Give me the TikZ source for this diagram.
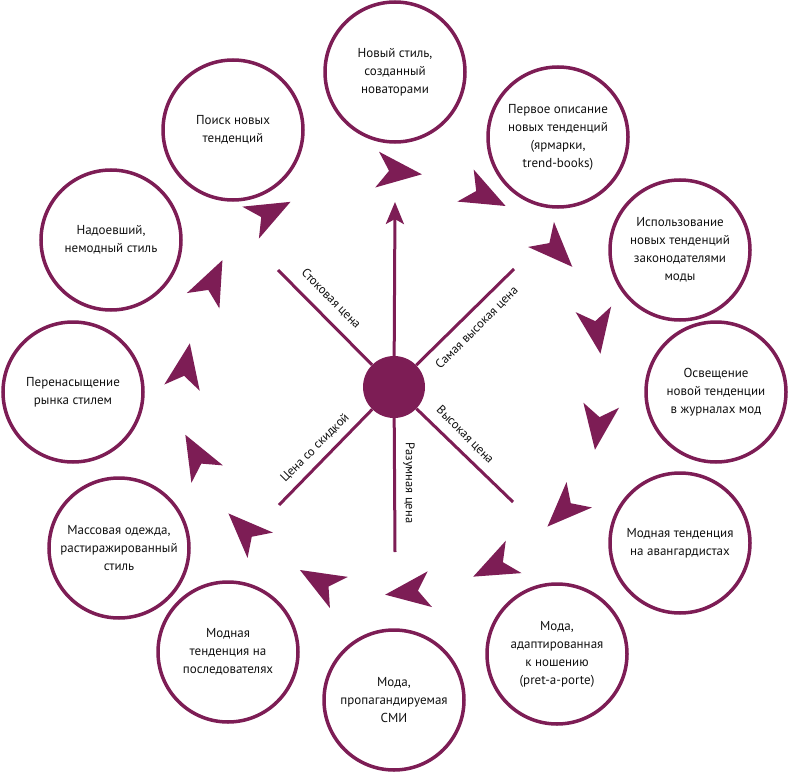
\documentclass[tikz,border=0pt]{standalone}
\usepackage{fontspec}
\setmainfont{PT Sans}
\usetikzlibrary{arrows.meta}
\definecolor{plum}{HTML}{7D1D55}
\definecolor{ink}{HTML}{111111}
\begin{document}
\begin{tikzpicture}[x=1pt,y=-1pt,
  bub/.style={circle,draw=plum,line width=3.5pt,minimum size=140pt,inner sep=0pt,align=center,text=ink,font=\fontsize{13}{18}\selectfont},
  lab/.style={text=ink,font=\fontsize{12.5}{15}\selectfont,inner sep=1pt},
  spoke/.style={draw=plum,line width=3pt},
  arr/.pic={\fill[plum] (22,0) -- (-23,-18) -- (-11,0) -- (-23,18) -- cycle;}]
\useasboundingbox (0,0) rectangle (790,773);
\node[bub] (c1) at (395,72) {Новый стиль,\\созданный\\новаторами};
\node[bub] (c2) at (558,137) {Первое описание\\новых тенденций\\(ярмарки,\\trend-books)};
\node[bub] (c3) at (680,250) {Использование\\новых тенденций\\законодателями\\моды};
\node[bub] (c4) at (716,392) {Освещение\\новой тенденции\\в журналах мод};
\node[bub] (c5) at (680,543) {Модная тенденция\\на авангардистах};
\node[bub] (c6) at (557,654) {Мода,\\адаптированная\\к ношению\\(pret-a-porte)};
\node[bub] (c7) at (394,700) {Мода,\\пропагандируемая\\СМИ};
\node[bub] (c8) at (228,652) {Модная\\тенденция на\\последователях};
\node[bub] (c9) at (119,548) {Массовая одежда,\\растиражированный\\стиль};
\node[bub] (c10) at (73,392) {Перенасыщение\\рынка стилем};
\node[bub] (c11) at (111,240) {Надоевший,\\немодный стиль};
\node[bub] (c12) at (233,130) {Поиск новых\\тенденций};
% center
\node[circle,fill=plum,minimum size=62pt,inner sep=0pt] (hub) at (394,387) {};
\coordinate (pul) at (278,270);
\coordinate (pur) at (514,269);
\coordinate (plr) at (513,502);
\coordinate (pll) at (279,505);
\coordinate (pd) at (395,552);
\coordinate (pu) at (395,202);
\draw[spoke] (hub) -- (pul);
\draw[spoke] (hub) -- (pur);
\draw[spoke] (hub) -- (plr);
\draw[spoke] (hub) -- (pll);
\draw[spoke] (hub) -- (pd);
\draw[spoke,-{Stealth[length=22pt,width=18pt,inset=5pt]}] (hub) -- (pu);
\node[lab,rotate=-45] (l1) at (331,299) {Стоковая цена};
\node[lab,rotate=45] (l2) at (477,328) {Самая высокая цена};
\node[lab,rotate=-45] (l3) at (465,435) {Высокая цена};
\node[lab,rotate=-90] (l4) at (409,483) {Разумная цена};
\node[lab,rotate=45] (l5) at (315,448) {Цена со скидкой};
% arrowheads
\pic[rotate=-6] at (400,172) {arr};
\pic[rotate=-27] at (486,196) {arr};
\pic[rotate=-46] at (557,251) {arr};
\pic[rotate=-81] at (597,332) {arr};
\pic[rotate=-98] at (598,428) {arr};
\pic[rotate=-135] at (563,511) {arr};
\pic[rotate=-154] at (493,567) {arr};
\pic[rotate=-173] at (407,592) {arr};
\pic[rotate=-210] at (319,581) {arr};
\pic[rotate=-225] at (244,529) {arr};
\pic[rotate=-241] at (196,454) {arr};
\pic[rotate=-280] at (186,365) {arr};
\pic[rotate=64.6] at (213,280) {arr};
\pic[rotate=27.5] at (271,212) {arr};
\end{tikzpicture}
\end{document}
